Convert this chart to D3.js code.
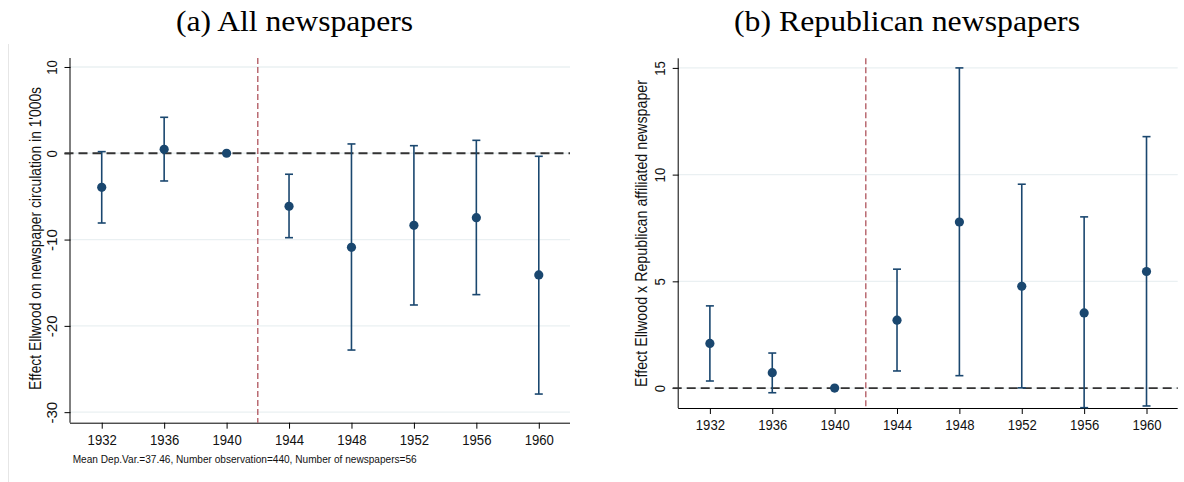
<!DOCTYPE html>
<html>
<head>
<meta charset="utf-8">
<script src="https://cdn.jsdelivr.net/npm/d3@7"></script>
<style>
  html, body { margin: 0; padding: 0; background: #fff; }
  svg { display: block; }
  text { font-family: "Liberation Sans", Arial, sans-serif; fill: #111; }
  .title { font-family: "Liberation Serif", "DejaVu Serif", serif; font-size: 28.5px; fill: #000; }
</style>
</head>
<body>
<svg id="chart" width="1184" height="482"></svg>
<script>
// ---------------- data ----------------
const years = [1932, 1936, 1940, 1944, 1948, 1952, 1956, 1960];
const xTickLabels = ["1932", "1936", "1940", "1944", "1948", "1952", "1956", "1960"];

// (a) All newspapers
const allEst = [-3.94, 0.46, 0, -6.14, -10.9, -8.35, -7.46, -14.1];
const allLo  = [-8.08, -3.21, 0, -9.78, -22.8, -17.58, -16.38, -27.9];
const allHi  = [0.19, 4.17, 0, -2.43, 1.08, 0.88, 1.5, -0.35];
const allYTicks = [10, 0, -10, -20, -30];
const allYTickLabels = ["10", "0", "-10", "-20", "-30"];

// (b) Republican newspapers
const repEst = [2.09, 0.72, 0, 3.18, 7.78, 4.77, 3.52, 5.46];
const repLo  = [0.33, -0.22, 0, 0.8, 0.58, 0.01, -0.92, -0.84];
const repHi  = [3.85, 1.64, 0, 5.57, 15.0, 9.55, 8.02, 11.78];
const repYTicks = [15, 10, 5, 0];
const repYTickLabels = ["15", "10", "5", "0"];

const treatmentYear = 1942;

const titles = ["(a) All newspapers", "(b) Republican newspapers"];
const yLabels = ["Effect Ellwood on newspaper circulation in 1'000s",
                 "Effect Ellwood x Republican affiliated newspaper"];
const footnote = "Mean Dep.Var.=37.46, Number observation=440, Number of newspapers=56";

// ---------------- drawing ----------------
const svg = d3.select("#chart");
const navy = "#1a476f";
const charW = 7.3; // condensed width per digit of tick labels

// faint panel border at left
svg.append("line").attr("x1", 8.5).attr("x2", 8.5).attr("y1", 44).attr("y2", 482)
   .attr("stroke", "#e6e6e6").attr("stroke-width", 1);

function panel(cfg) {
  const x = d3.scaleLinear().domain([1930, 1962]).range([cfg.x0, cfg.x1]);
  const y = d3.scaleLinear().domain(cfg.yDomain).range([cfg.yBottom, cfg.yTop]);
  const g = svg.append("g");

  // gridlines
  g.append("g").selectAll("line").data(cfg.yTicks).join("line")
    .attr("x1", cfg.x0).attr("x2", cfg.x1)
    .attr("y1", d => y(d)).attr("y2", d => y(d))
    .attr("stroke", "#eaf0f2").attr("stroke-width", 1.3);

  // y axis
  const yAxis = d3.axisLeft(y).tickValues(cfg.yTicks).tickSize(6).tickPadding(8)
      .tickFormat((d, i) => cfg.yTickLabels[i]);
  const ya = g.append("g").attr("transform", `translate(${cfg.x0},0)`).call(yAxis);
  ya.select(".domain").attr("d", `M-0.5,${cfg.yTop}V${cfg.yBottom}`).attr("stroke", "#000");
  ya.selectAll(".tick line").attr("stroke", "#000");
  ya.selectAll(".tick text")
    .attr("font-size", 15.5).attr("fill", "#111")
    .attr("font-family", "Liberation Sans, Arial, sans-serif")
    .attr("text-anchor", "middle").attr("dy", null)
    .attr("x", null)
    .attr("transform", `translate(-18,0) rotate(-90)`)
    .attr("dominant-baseline", "middle")
    .attr("textLength", function () { return this.textContent.length * charW; })
    .attr("lengthAdjust", "spacingAndGlyphs");

  // x axis
  const xAxis = d3.axisBottom(x).tickValues(years).tickSize(6).tickPadding(5)
      .tickFormat((d, i) => xTickLabels[i]);
  const xa = g.append("g").attr("transform", `translate(0,${cfg.yBottom})`).call(xAxis);
  xa.select(".domain").attr("d", `M${cfg.x0 - 0.5},0.5H${cfg.x1}`).attr("stroke", "#000");
  xa.selectAll(".tick line").attr("stroke", "#000");
  xa.selectAll(".tick text").attr("font-size", 15.5).attr("fill", "#111")
    .attr("font-family", "Liberation Sans, Arial, sans-serif")
    .attr("textLength", function () { return this.textContent.length * charW; })
    .attr("lengthAdjust", "spacingAndGlyphs");

  // zero dashed line
  g.append("line").attr("x1", cfg.x0 - 6).attr("x2", cfg.x1)
    .attr("y1", y(0)).attr("y2", y(0))
    .attr("stroke", "#333").attr("stroke-width", 1.8).attr("stroke-dasharray", "9,5");

  // treatment line
  g.append("line").attr("x1", x(treatmentYear)).attr("x2", x(treatmentYear))
    .attr("y1", cfg.yTop).attr("y2", cfg.yBottom)
    .attr("stroke", "#a8464f").attr("stroke-width", 1.2).attr("stroke-dasharray", "6,3");

  // error bars
  const idx = d3.range(years.length).filter(i => cfg.lo[i] !== cfg.hi[i]);
  const eb = g.append("g").attr("stroke", navy).attr("stroke-width", 1.6);
  eb.selectAll("line.v").data(idx).join("line").attr("class", "v")
    .attr("x1", i => x(years[i])).attr("x2", i => x(years[i]))
    .attr("y1", i => y(cfg.lo[i])).attr("y2", i => y(cfg.hi[i]));
  eb.selectAll("line.capt").data(idx).join("line").attr("class", "capt")
    .attr("x1", i => x(years[i]) - 4).attr("x2", i => x(years[i]) + 4)
    .attr("y1", i => y(cfg.hi[i])).attr("y2", i => y(cfg.hi[i]));
  eb.selectAll("line.capb").data(idx).join("line").attr("class", "capb")
    .attr("x1", i => x(years[i]) - 4).attr("x2", i => x(years[i]) + 4)
    .attr("y1", i => y(cfg.lo[i])).attr("y2", i => y(cfg.lo[i]));

  // points
  g.append("g").selectAll("circle").data(years).join("circle")
    .attr("cx", d => x(d)).attr("cy", (d, i) => y(cfg.est[i]))
    .attr("r", 4.6).attr("fill", navy);

  // y label
  g.append("text")
    .attr("transform", `translate(${cfg.yLabelX},${cfg.yLabelY}) rotate(-90)`)
    .attr("text-anchor", "middle").attr("dominant-baseline", "middle")
    .attr("font-size", 16.5)
    .attr("textLength", cfg.yLabelLen).attr("lengthAdjust", "spacingAndGlyphs")
    .text(cfg.yLabel);

  // title
  svg.append("text").attr("class", "title")
    .attr("x", cfg.titleX).attr("y", 31)
    .attr("textLength", cfg.titleLen).attr("lengthAdjust", "spacingAndGlyphs")
    .text(cfg.title);
}

panel({
  x0: 70.5, x1: 570, yTop: 58, yBottom: 422.7,
  yDomain: [-31.22, 11.04], yTicks: allYTicks, yTickLabels: allYTickLabels,
  est: allEst, lo: allLo, hi: allHi,
  yLabel: yLabels[0], yLabelX: 37, yLabelY: 238.5, yLabelLen: 303,
  title: titles[0], titleX: 176, titleLen: 237
});

panel({
  x0: 678.7, x1: 1177.7, yTop: 58.3, yBottom: 408,
  yDomain: [-0.935, 15.45], yTicks: repYTicks, yTickLabels: repYTickLabels,
  est: repEst, lo: repLo, hi: repHi,
  yLabel: yLabels[1], yLabelX: 643, yLabelY: 233.5, yLabelLen: 307,
  title: titles[1], titleX: 734, titleLen: 346
});

svg.append("text").attr("x", 72.7).attr("y", 463)
  .attr("font-size", 11.5)
  .attr("textLength", 344).attr("lengthAdjust", "spacingAndGlyphs")
  .text(footnote);
</script>
</body>
</html>
